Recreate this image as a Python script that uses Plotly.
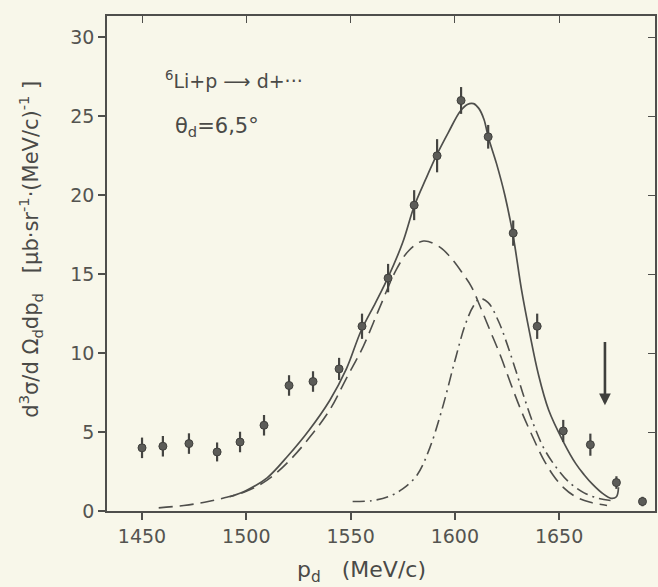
import plotly.graph_objects as go

# ---- measured data points ----
p_d = [1450, 1460, 1472.5, 1486, 1497, 1508.5, 1520.5, 1532, 1544.5, 1555.5, 1568,
       1580.5, 1591.5, 1603, 1616, 1628, 1639.5, 1652, 1665, 1677.5, 1690]
sigma = [4.0, 4.1, 4.27, 3.74, 4.37, 5.43, 7.95, 8.2, 9.0, 11.7, 14.75,
         19.37, 22.5, 26.0, 23.7, 17.6, 11.7, 5.07, 4.2, 1.8, 0.6]
sigma_err = [0.65, 0.65, 0.65, 0.6, 0.65, 0.65, 0.65, 0.65, 0.7, 0.8, 0.9,
             0.95, 1.05, 0.85, 0.75, 0.8, 0.8, 0.7, 0.7, 0.4, 0.3]

# ---- curves ----
total_x = [1492, 1500, 1510, 1520, 1530, 1540, 1548, 1555, 1562, 1568, 1575, 1580.5,
           1586, 1591.5, 1597, 1602.5, 1606, 1609, 1611.5, 1614, 1616, 1620, 1624,
           1628, 1632, 1636, 1640, 1645, 1652, 1658, 1662, 1666, 1671, 1675, 1677.5, 1678.5]
total_y = [0.9, 1.3, 2.1, 3.5, 5.1, 7.0, 9.0, 11.4, 13.2, 14.8, 17.0, 19.3,
           21.0, 22.6, 24.0, 25.3, 25.75, 25.8, 25.5, 24.8, 23.7, 22.0, 20.0,
           17.4, 14.0, 11.2, 8.7, 6.4, 4.4, 3.0, 2.3, 1.7, 1.1, 0.8, 0.9, 1.5]

broad_x = [1458, 1470, 1480, 1490, 1500, 1510, 1520, 1530, 1540, 1548, 1556, 1564,
           1572, 1578, 1585, 1593, 1599, 1604, 1608, 1612, 1617, 1622, 1627, 1632,
           1637, 1642, 1647, 1652, 1658, 1665, 1673]
broad_y = [0.2, 0.35, 0.55, 0.85, 1.25, 1.95, 3.1, 4.6, 6.4, 8.4, 10.4, 12.9,
           15.3, 16.5, 17.1, 16.7, 15.9, 15.0, 14.2, 13.0, 11.4, 9.8, 8.0, 6.3,
           4.8, 3.4, 2.3, 1.5, 0.9, 0.55, 0.35]

narrow_x = [1551, 1560, 1568, 1575, 1582, 1588, 1594, 1600, 1605, 1609, 1612, 1616,
            1621, 1625, 1629, 1633, 1638, 1643, 1649, 1655, 1662, 1669, 1676]
narrow_y = [0.6, 0.65, 0.9, 1.4, 2.3, 4.0, 6.5, 9.5, 11.8, 13.0, 13.45, 13.2,
            12.0, 10.6, 9.0, 7.3, 5.4, 3.9, 2.7, 1.8, 1.15, 0.8, 0.65]

x_ticks = [1450, 1500, 1550, 1600, 1650]
y_ticks = [0, 5, 10, 15, 20, 25, 30]
x_range = [1433.2, 1696.0]
y_range = [0, 31.35]

arrow_x = 1672
arrow_tail_y = 10.8
arrow_tip_y = 6.7

ink = "#4f4f4c"
bg = "#f8f7ea"
font = "DejaVu Sans"

fig = go.Figure()

fig.add_trace(go.Scatter(x=broad_x, y=broad_y, mode="lines",
                         line=dict(color=ink, width=1.6, dash="14px,7px", shape="spline", smoothing=1.0),
                         hoverinfo="skip", showlegend=False))
fig.add_trace(go.Scatter(x=narrow_x, y=narrow_y, mode="lines",
                         line=dict(color=ink, width=1.6, dash="12px,5px,2px,5px", shape="spline", smoothing=1.0),
                         hoverinfo="skip", showlegend=False))
fig.add_trace(go.Scatter(x=total_x, y=total_y, mode="lines",
                         line=dict(color=ink, width=1.7, shape="spline", smoothing=1.0),
                         hoverinfo="skip", showlegend=False))
fig.add_trace(go.Scatter(x=p_d, y=sigma, mode="markers",
                         marker=dict(symbol="circle", size=8, color="#5c5c58",
                                     line=dict(color="#3f3f3c", width=1)),
                         error_y=dict(type="data", array=sigma_err, visible=True,
                                      thickness=2.2, width=0, color="#454542"),
                         showlegend=False))
# invisible trace to carry the mirrored (top/right) axes
fig.add_trace(go.Scatter(x=p_d, y=sigma, xaxis="x2", yaxis="y2", mode="markers",
                         marker=dict(opacity=0), hoverinfo="skip", showlegend=False))

axis_common = dict(showgrid=False, zeroline=False, showline=True, linecolor=ink,
                   linewidth=1.6, tickcolor=ink, tickwidth=1.6, ticklen=7,
                   tickfont=dict(family=font, size=19, color="#545450"))

fig.update_layout(
    width=658, height=587,
    margin=dict(l=107, r=3, t=16, b=76),
    paper_bgcolor=bg, plot_bgcolor=bg,
    xaxis=dict(range=x_range, tickvals=x_ticks, ticks="outside", **axis_common),
    yaxis=dict(range=y_range, tickvals=y_ticks, ticks="outside", **axis_common),
    xaxis2=dict(range=x_range, tickvals=x_ticks, ticks="inside", overlaying="x",
                side="top", showticklabels=False, showgrid=False, zeroline=False,
                showline=True, linecolor=ink, linewidth=1.6, tickcolor=ink,
                tickwidth=1.4, ticklen=7),
    yaxis2=dict(range=y_range, tickvals=y_ticks, ticks="inside", overlaying="y",
                side="right", showticklabels=False, showgrid=False, zeroline=False,
                showline=True, linecolor=ink, linewidth=1.6, tickcolor=ink,
                tickwidth=1.4, ticklen=7),
    showlegend=False,
)

fig.add_annotation(x=arrow_x, y=arrow_tip_y, ax=arrow_x, ay=arrow_tail_y,
                   xref="x", yref="y", axref="x", ayref="y", text="",
                   showarrow=True, arrowhead=2, arrowsize=0.9, arrowwidth=2.6,
                   arrowcolor="#3f3f3c")

fig.add_annotation(x=0.102, y=0.871, xref="paper", yref="paper", xanchor="left",
                   yanchor="middle", showarrow=False,
                   text="<sup>6</sup>Li+p ⟶ d+···",
                   font=dict(family=font, size=19, color="#4a4a47"))
fig.add_annotation(x=0.12, y=0.776, xref="paper", yref="paper", xanchor="left",
                   yanchor="middle", showarrow=False,
                   text="θ<sub>d</sub>=6,5°",
                   font=dict(family=font, size=21, color="#4a4a47"))

fig.add_annotation(x=-0.1405, y=0.528, xref="paper", yref="paper", xanchor="center",
                   yanchor="middle", showarrow=False, textangle=-90,
                   text="d<sup>3</sup>σ/d Ω<sub>d</sub>dp<sub>d</sub>   [μb·sr<sup>-1</sup>·(MeV/c)<sup>-1</sup> ]",
                   font=dict(family=font, size=21, color="#4a4a47"))
fig.add_annotation(x=0.465, y=-0.122, xref="paper", yref="paper", xanchor="center",
                   yanchor="middle", showarrow=False,
                   text="p<sub>d</sub>   (MeV/c)",
                   font=dict(family=font, size=22, color="#4a4a47"))

fig.write_html(
    "out.html",
    config={"displayModeBar": False},
    post_script="document.body.style.margin='0';document.body.style.padding='0';"
                "document.body.style.background='" + bg + "';"
                "document.documentElement.style.background='" + bg + "';",
)
